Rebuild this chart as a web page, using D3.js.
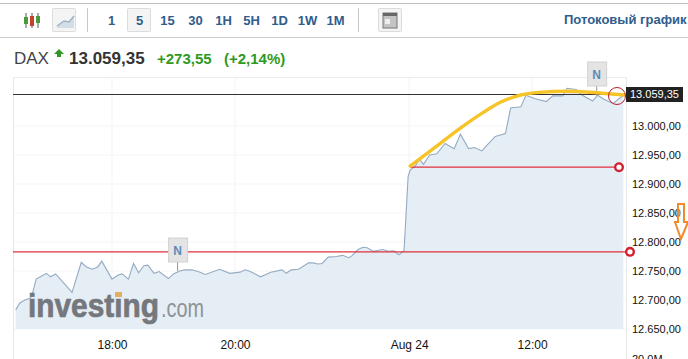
<!DOCTYPE html>
<html>
<head>
<meta charset="utf-8">
<script src="https://cdn.jsdelivr.net/npm/d3@7"></script>
<style>
  html, body { margin: 0; padding: 0; background: #fff; overflow: hidden; }
  text { font-family: "Liberation Sans", Arial, sans-serif; }
</style>
</head>
<body>
<div id="vis"></div>
<script>
// values, minutes are counted from the 18:00 tick on the chart's own compressed axis
const minutes = [-94,-90,-85,-80,-78,-74,-70,-64,-60,-55,-39,-30,-25,-19,-14,-10,0,6,10,16,21,26,31,35,41,46,55,60,66,71,78,86,91,105,115,125,130,135,145,155,166,170,175,182,192,196,201,205,211,219,225,231,234,240,245,249,255,264,270,275,280,285,289,291,296,300,304,310,317,325,334,340,348,354,361,366,374,384,389,399,404,413,424,430,440,444,453,459,469,474,480,489,499]
const prices = [12683,12695,12700,12703,12709,12736,12740,12746,12740,12745,12713,12765,12757,12753,12757,12767,12736,12743,12745,12736,12763,12747,12759,12760,12746,12749,12737,12745,12750,12752,12752,12748,12744,12753,12746,12748,12752,12749,12740,12748,12752,12746,12752,12753,12764,12764,12762,12763,12774,12775,12777,12773,12776,12787,12791,12790,12784,12787,12784,12785,12778,12785,12913,12924,12931,12943,12934,12950,12952,12970,12961,12986,12961,12963,12957,12967,12982,12987,13031,13033,13053,13047,13042,13052,13052,13065,13063,13053,13043,13053,13046,13039,13053]

const priceTicks = [12650,12700,12750,12800,12850,12900,12950,13000]
const timeTicks = [0,120,290,410]
const timeLabels = ['18:00','20:00','Aug 24','12:00']
const intervals = ['1','5','15','30','1H','5H','1D','1W','1M']

// hand drawn marks on top of the chart
const blackLevel = 13055
const redLevels = [12929,12783]
const curveMinutes = [291,313,339,362,378,398,417,444,476,503]
const curvePrices = [12931,12960,12995,13023,13040,13053,13058,13060,13057,13053]

const width = 688
const height = 359
const plotTop = 77
const plotBottom = 329

const svg = d3.select('#vis').append('svg')
    .attr('width', width)
    .attr('height', height)
    .style('display', 'block')

const x = d3.scaleLinear().domain([-94, 499]).range([15.7, 623.3])
const y = d3.scaleLinear().domain([12650, 13000]).range([329, 126])

const priceFormat = d3.formatLocale({decimal: ',', thousands: '.', grouping: [3], currency: ['', '']}).format(',.2f')

//toolbar
svg.append('rect').attr('x', 0).attr('y', 3).attr('width', width).attr('height', 1).attr('fill', '#bdbdbd')
svg.append('rect').attr('x', 0).attr('y', 37).attr('width', width).attr('height', 1).attr('fill', '#cfcfcf')

function button(bx) {
    svg.append('rect').attr('x', bx + .5).attr('y', 8.5).attr('width', 23).attr('height', 23).attr('rx', 1)
        .attr('fill', '#f4f4f4').attr('stroke', '#dcdcdc')
}
button(52)
button(127)
button(378)
svg.append('rect').attr('x', 87).attr('y', 8).attr('width', 1).attr('height', 24).attr('fill', '#c8c8c8')
svg.append('rect').attr('x', 358).attr('y', 8).attr('width', 1).attr('height', 24).attr('fill', '#c8c8c8')

//candlestick icon
;[[26, '#4a9a3c', 17, 24], [32, '#c8402c', 16, 26], [38, '#4a9a3c', 16, 23]].forEach(c => {
    svg.append('line').attr('x1', c[0]).attr('x2', c[0]).attr('y1', 13).attr('y2', 28).attr('stroke', '#555')
    svg.append('rect').attr('x', c[0] - 2).attr('y', c[2]).attr('width', 4).attr('height', c[3] - c[2]).attr('fill', c[1])
})
//line icon
svg.append('path').attr('d', 'M57 26L64 21L69 22L74 16V28H57Z').attr('fill', '#d3dde8')
svg.append('path').attr('d', 'M57 26L64 21L69 22L74 16').attr('fill', 'none').attr('stroke', '#9fb3c8').attr('stroke-width', 1.5)
//news icon
svg.append('rect').attr('x', 383).attr('y', 13).attr('width', 14).attr('height', 15).attr('fill', '#c4c4c4').attr('stroke', '#777')
svg.append('rect').attr('x', 383).attr('y', 13).attr('width', 14).attr('height', 3).attr('fill', '#666')
svg.append('rect').attr('x', 385).attr('y', 19).attr('width', 5).attr('height', 5).attr('fill', '#eee')

svg.selectAll('.interval')
    .data(intervals)
    .enter()
    .append('text')
    .attr('class', 'interval')
    .attr('x', (d, i) => 111.5 + i * 28)
    .attr('y', 25)
    .attr('text-anchor', 'middle')
    .attr('font-size', 13)
    .attr('font-weight', 'bold')
    .attr('fill', '#2f5d8c')
    .text(d => d)

svg.append('text').attr('x', 564).attr('y', 24).attr('font-size', 13).attr('font-weight', 'bold')
    .attr('fill', '#2f5d8c').text('Потоковый график')

//quote line
svg.append('text').attr('x', 14).attr('y', 64).attr('font-size', 17).attr('fill', '#444').text('DAX')
svg.append('path').attr('d', 'M59 49L64 54H61V57H57V54H54Z').attr('fill', '#2f9a22')
svg.append('text').attr('x', 69).attr('y', 64).attr('font-size', 17).attr('font-weight', 'bold').attr('fill', '#333').text('13.059,35')
svg.append('text').attr('x', 157).attr('y', 64).attr('font-size', 15).attr('font-weight', 'bold').attr('fill', '#2f9a22').text('+273,55')
svg.append('text').attr('x', 224).attr('y', 64).attr('font-size', 15).attr('font-weight', 'bold').attr('fill', '#2f9a22').text('(+2,14%)')

//grid and frame
svg.append('g').selectAll('line')
    .data(priceTicks)
    .enter()
    .append('line')
    .attr('x1', 13).attr('x2', 626)
    .attr('y1', d => y(d)).attr('y2', d => y(d))
    .attr('stroke', '#f5f5f5')
svg.append('g').selectAll('line')
    .data(timeTicks)
    .enter()
    .append('line')
    .attr('x1', d => x(d)).attr('x2', d => x(d))
    .attr('y1', plotTop).attr('y2', plotBottom)
    .attr('stroke', '#f3f3f3')
svg.append('line').attr('x1', 13).attr('x2', 626).attr('y1', plotTop + .5).attr('y2', plotTop + .5).attr('stroke', '#ececec')
svg.append('line').attr('x1', 13.5).attr('x2', 13.5).attr('y1', plotTop).attr('y2', height).attr('stroke', '#e6e6e6')
svg.append('line').attr('x1', 626.5).attr('x2', 626.5).attr('y1', plotTop).attr('y2', height).attr('stroke', '#e6e6e6')

//price series
const points = minutes.map((m, i) => [m, prices[i]])
const area = d3.area().x(d => x(d[0])).y0(plotBottom).y1(d => y(d[1]))
const line = d3.line().x(d => x(d[0])).y(d => y(d[1]))
svg.append('path').attr('d', area(points)).attr('fill', '#e5edf5')
svg.append('path').attr('d', line(points)).attr('fill', 'none').attr('stroke', '#94abc2').attr('stroke-width', 1.1)

//axes
const yAxis = d3.axisRight(y).tickValues(priceTicks).tickSize(0).tickPadding(0).tickFormat(priceFormat)
const yAxisG = svg.append('g').attr('transform', 'translate(632,0)').call(yAxis)
yAxisG.select('.domain').remove()
yAxisG.selectAll('text').attr('font-size', 11).attr('fill', '#111').style('font-family', '"Liberation Sans", Arial, sans-serif')

const xAxis = d3.axisBottom(x).tickValues(timeTicks).tickSize(0).tickPadding(0).tickFormat((d, i) => timeLabels[i])
const xAxisG = svg.append('g').attr('transform', 'translate(0,340)').call(xAxis)
xAxisG.select('.domain').remove()
xAxisG.selectAll('text').attr('font-size', 12).attr('fill', '#111').style('font-family', '"Liberation Sans", Arial, sans-serif')

svg.append('text').attr('x', 632).attr('y', 363).attr('font-size', 11).attr('fill', '#111').text('20.0M')

//watermark
svg.append('text').attr('x', 28).attr('y', 317).attr('font-size', 33).attr('font-weight', 'bold')
    .attr('fill', '#74777b').attr('stroke', '#74777b').attr('stroke-width', .7)
    .attr('textLength', 131).attr('lengthAdjust', 'spacingAndGlyphs').text('investing')
svg.append('text').attr('x', 161).attr('y', 317).attr('font-size', 25)
    .attr('fill', '#8f9296').attr('textLength', 43).attr('lengthAdjust', 'spacingAndGlyphs').text('.com')
svg.append('rect').attr('x', 115).attr('y', 292).attr('width', 7).attr('height', 5).attr('fill', '#e0b060')

//news flags
function flag(minute, top, stemEnd) {
    const fx = x(minute)
    svg.append('line').attr('x1', fx).attr('x2', fx).attr('y1', top + 22).attr('y2', stemEnd).attr('stroke', '#999')
    svg.append('rect').attr('x', fx - 9).attr('y', top).attr('width', 19).attr('height', 24)
        .attr('fill', '#e4e4e4').attr('stroke', '#d2d2d2')
    svg.append('text').attr('x', fx).attr('y', top + 17).attr('text-anchor', 'middle').attr('font-size', 12)
        .attr('font-weight', 'bold').attr('fill', '#5f8ab8').text('N')
}

//annotations
svg.append('line').attr('x1', 13).attr('x2', 625).attr('y1', y(blackLevel)).attr('y2', y(blackLevel))
    .attr('stroke', '#333').attr('stroke-width', 1).attr('shape-rendering', 'crispEdges')
svg.append('line').attr('x1', x(291)).attr('x2', 619).attr('y1', y(redLevels[0])).attr('y2', y(redLevels[0]))
    .attr('stroke', '#e0303a').attr('stroke-width', 1.2)
svg.append('line').attr('x1', 13).attr('x2', 630).attr('y1', y(redLevels[1])).attr('y2', y(redLevels[1]))
    .attr('stroke', '#e0303a').attr('stroke-width', 1.2)

flag(64, 238, 271)
flag(473, 62, 96)

const curve = d3.line().curve(d3.curveMonotoneX).x(d => x(d[0])).y(d => y(d[1]))
svg.append('path')
    .attr('d', curve(curveMinutes.map((m, i) => [m, curvePrices[i]])))
    .attr('fill', 'none').attr('stroke', '#f6c428').attr('stroke-width', 3.4).attr('stroke-linecap', 'round')

//last price label
svg.append('rect').attr('x', 626).attr('y', 87).attr('width', 57).attr('height', 15).attr('fill', '#222')
svg.append('text').attr('x', 630).attr('y', 98).attr('font-size', 11).attr('fill', '#fff').text(priceFormat(13059.35))

//rings
svg.append('circle').attr('cx', 617).attr('cy', 96).attr('r', 8.5).attr('fill', 'none').attr('stroke', '#b8202c').attr('stroke-width', 1)
svg.append('circle').attr('cx', 619).attr('cy', y(redLevels[0])).attr('r', 3.8).attr('fill', '#fff').attr('stroke', '#d01f2e').attr('stroke-width', 2.4)
svg.append('circle').attr('cx', 630).attr('cy', y(redLevels[1])).attr('r', 3.8).attr('fill', '#fff').attr('stroke', '#d01f2e').attr('stroke-width', 2.4)

//orange arrow
svg.append('path').attr('d', 'M678 204H684V222H688L681 239L675 222H678Z')
    .attr('fill', '#fff').attr('fill-opacity', .3).attr('stroke', '#f08a2c').attr('stroke-width', 2)
</script>
</body>
</html>
